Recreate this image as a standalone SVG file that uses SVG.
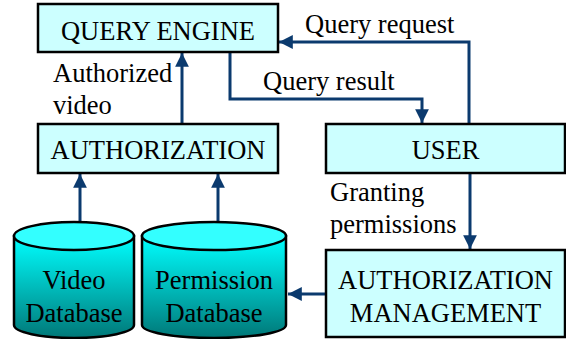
<svg xmlns="http://www.w3.org/2000/svg" width="566" height="339" viewBox="0 0 566 339">
  <style>
    .box { fill: #ccffff; stroke: #000; stroke-width: 2.5; }
    .lbl { font-size: 26.5px; fill: #000; }
    .mid { text-anchor: middle; }
    .wire { fill: none; stroke: #0b3a6e; stroke-width: 3; }
    .cyl-body { fill: url(#dbGrad); stroke: #000; stroke-width: 2.5; }
    .cyl-top { fill: #33ffff; stroke: #000; stroke-width: 2.5; }
  </style>
  <defs>
    <marker id="arrow" viewBox="0 0 10 10" refX="10" refY="5" markerWidth="4.6" markerHeight="4.6" orient="auto" markerUnits="strokeWidth">
      <path d="M0,0 L10,5 L0,10 Z" fill="#0b3a6e"/>
    </marker>
    <linearGradient id="dbGrad" x1="0" y1="0" x2="0" y2="1">
      <stop offset="0" stop-color="#00ffff"/>
      <stop offset="1" stop-color="#007878"/>
    </linearGradient>
  </defs>
  <rect width="566" height="339" fill="#fff"/>

  <g font-family="'Liberation Serif', 'DejaVu Serif', serif">
  <!-- connectors -->
  <g id="connectors">
    <path class="wire" d="M182,124 V53" marker-end="url(#arrow)"/>
    <path class="wire" d="M230,52 V99 H422 V123" marker-end="url(#arrow)"/>
    <path class="wire" d="M469,124 V42 H279" marker-end="url(#arrow)"/>
    <path class="wire" d="M470,173 V249" marker-end="url(#arrow)"/>
    <path class="wire" d="M326,294 H288" marker-end="url(#arrow)"/>
    <path class="wire" d="M80,222 V174" marker-end="url(#arrow)"/>
    <path class="wire" d="M218,222 V174" marker-end="url(#arrow)"/>
    <text class="lbl" x="53" y="82">Authorized</text>
    <text class="lbl" x="53" y="114">video</text>
    <text class="lbl" x="263" y="90">Query result</text>
    <text class="lbl" x="305" y="33">Query request</text>
    <text class="lbl" x="330" y="201">Granting</text>
    <text class="lbl" x="330" y="233">permissions</text>
  </g>

  <g id="query-engine">
    <rect class="box" x="38" y="4" width="240" height="48"/>
    <text class="lbl mid" x="158" y="40">QUERY ENGINE</text>
  </g>

  <g id="authorization">
    <rect class="box" x="38" y="124" width="240" height="49"/>
    <text class="lbl mid" x="158" y="159">AUTHORIZATION</text>
  </g>

  <g id="user">
    <rect class="box" x="326" y="124" width="239" height="49"/>
    <text class="lbl mid" x="445.5" y="159">USER</text>
  </g>

  <g id="authorization-management">
    <rect class="box" x="326" y="250" width="239" height="87"/>
    <text class="lbl mid" x="445.5" y="289">AUTHORIZATION</text>
    <text class="lbl mid" x="445.5" y="322">MANAGEMENT</text>
  </g>

  <g id="video-database">
    <path class="cyl-body" d="M14,236 V325 A60,13 0 0 0 134,325 V236 Z"/>
    <ellipse class="cyl-top" cx="74" cy="236" rx="60" ry="14"/>
    <text class="lbl mid" x="74" y="289">Video</text>
    <text class="lbl mid" x="74" y="322">Database</text>
  </g>

  <g id="permission-database">
    <path class="cyl-body" d="M142,236 V325 A72,13 0 0 0 286,325 V236 Z"/>
    <ellipse class="cyl-top" cx="214" cy="236" rx="72" ry="14"/>
    <text class="lbl mid" x="214" y="289">Permission</text>
    <text class="lbl mid" x="214" y="322">Database</text>
  </g>
  </g>
</svg>
